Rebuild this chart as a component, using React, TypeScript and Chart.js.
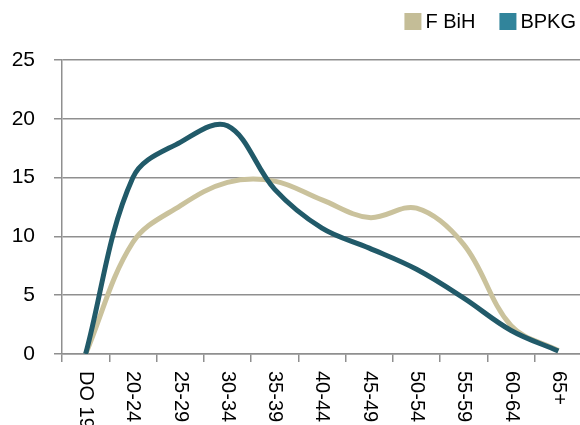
import React, { useEffect, useRef } from "react";
import { Chart, registerables } from "chart.js";

Chart.register(...registerables);

const categories = ["DO 19", "20-24", "25-29", "30-34", "35-39", "40-44", "45-49", "50-54", "55-59", "60-64", "65+"];
const fBiH = [0, 9.5, 12.6, 14.6, 14.7, 13.1, 11.6, 12.4, 9.3, 2.4, 0.3];
const bpkg = [0, 15.0, 18.0, 19.4, 14.0, 10.7, 9.0, 7.2, 4.75, 2.0, 0.25];
const yTicks = [0, 5, 10, 15, 20, 25];

const FONT = "'Liberation Sans', Arial, sans-serif";

const xLabelPlugin = {
  id: "xLabelsDown",
  afterDraw(chart: any) {
    const ctx = chart.ctx;
    const xs = chart.scales.x;
    ctx.save();
    ctx.fillStyle = "#000";
    ctx.font = `20px ${FONT}`;
    ctx.textAlign = "left";
    ctx.textBaseline = "middle";
    const labels = chart.data.labels as string[];
    labels.forEach((lab, i) => {
      const x = xs.getPixelForValue(i);
      ctx.save();
      ctx.translate(x, xs.bottom - 54);
      ctx.rotate(Math.PI / 2);
      ctx.fillText(lab, 0, 0);
      ctx.restore();
    });
    ctx.restore();
  },
};

const legendPlugin = {
  id: "customLegend",
  afterDraw(chart: any) {
    const ctx = chart.ctx;
    ctx.save();
    ctx.font = `20px ${FONT}`;
    ctx.textBaseline = "middle";
    ctx.textAlign = "left";
    const box = 17;
    const gap = 4;
    const itemGap = 24;
    const ds = chart.data.datasets;
    const widths = ds.map((d: any) => box + gap + ctx.measureText(d.label).width);
    const total = widths.reduce((a: number, b: number) => a + b, 0) + itemGap * (ds.length - 1);
    let x = 576 - total;
    const y = 13;
    ds.forEach((d: any, i: number) => {
      ctx.fillStyle = d.legendColor;
      ctx.fillRect(x, y, box, box);
      ctx.fillStyle = "#000";
      ctx.fillText(d.label, x + box + gap, y + box / 2 + 1);
      x += widths[i] + itemGap;
    });
    ctx.restore();
  },
};

export default function App() {
  const ref = useRef<HTMLCanvasElement>(null);
  useEffect(() => {
    if (!ref.current) return;
    const chart = new Chart(ref.current, {
      type: "line",
      data: {
        labels: categories,
        datasets: [
          {
            label: "F BiH",
            data: fBiH,
            borderColor: "#CAC29C",
            backgroundColor: "#C4BD97",
            legendColor: "#C4BD97",
            borderWidth: 5,
            pointRadius: 0,
            tension: 0.36,
            order: 1,
          } as any,
          {
            label: "BPKG",
            data: bpkg,
            borderColor: "#215A69",
            backgroundColor: "#31849B",
            legendColor: "#31849B",
            borderWidth: 5,
            pointRadius: 0,
            tension: 0.36,
            order: 0,
          } as any,
        ],
      },
      options: {
        animation: false,
        responsive: false,
        maintainAspectRatio: false,
        layout: { padding: { top: 60, left: 0, right: 0, bottom: 0 } },
        plugins: { legend: { display: false }, tooltip: { enabled: false } },
        scales: {
          x: {
            type: "category",
            offset: true,
            afterFit(scale: any) {
              scale.height = 71;
            },
            grid: {
              display: true,
              offset: true,
              drawOnChartArea: false,
              drawTicks: true,
              tickLength: 8,
              color: "#8f8f8f",
              lineWidth: 1.5,
            },
            border: { display: true, color: "#8f8f8f", width: 1.5 },
            ticks: { display: false, autoSkip: false },
          },
          y: {
            min: 0,
            max: 25,
            afterFit(scale: any) {
              scale.width = 62;
            },
            afterBuildTicks(scale: any) {
              scale.ticks = yTicks.map((v) => ({ value: v }));
            },
            grid: {
              color: "#8f8f8f",
              lineWidth: 1.5,
              tickLength: 8,
              drawTicks: true,
            },
            border: { display: true, color: "#8f8f8f", width: 1.5 },
            ticks: {
              stepSize: 5,
              padding: 19,
              color: "#000",
              font: { family: FONT, size: 21 },
            },
          },
        },
      },
      plugins: [xLabelPlugin, legendPlugin],
    });
    return () => chart.destroy();
  }, []);
  return (
    <div style={{ position: "fixed", left: 0, top: 0, width: 580, height: 425, overflow: "hidden", background: "#fff" }}>
      <canvas ref={ref} width={582} height={425} style={{ display: "block" }} />
    </div>
  );
}
